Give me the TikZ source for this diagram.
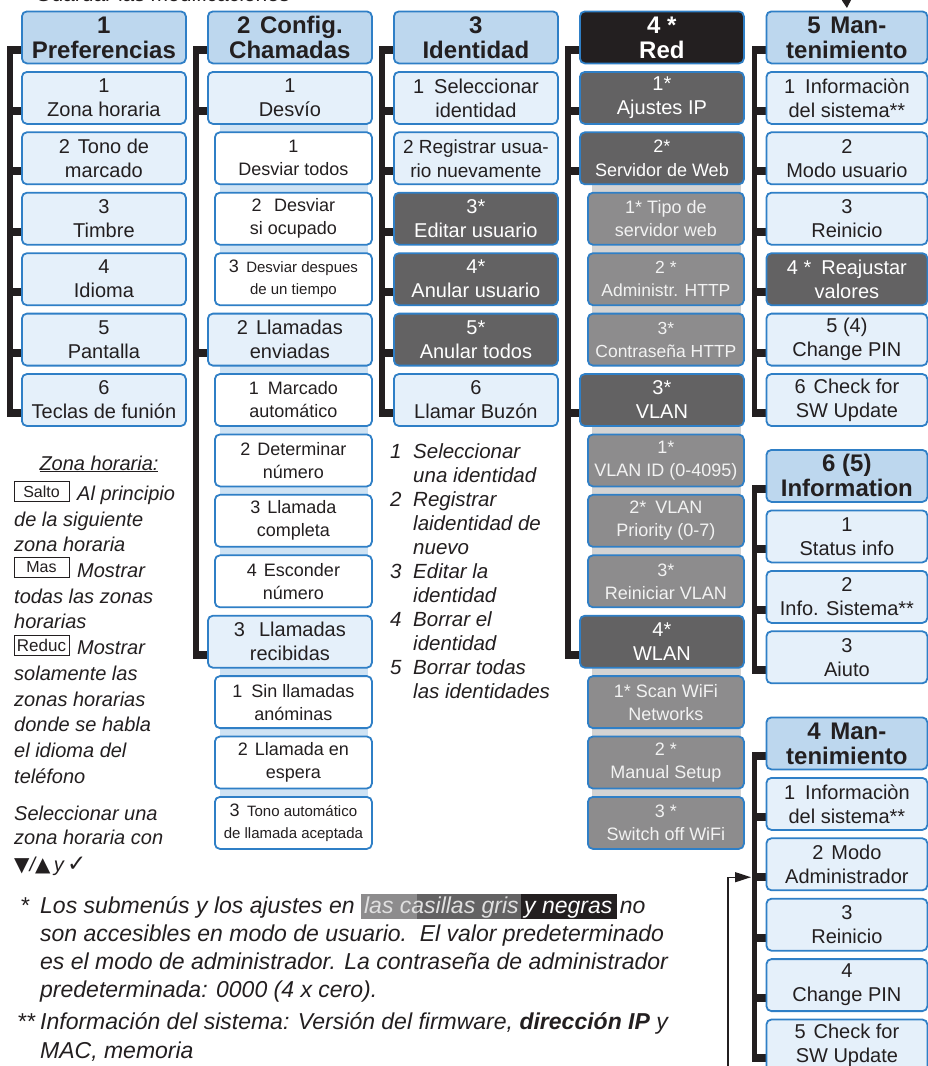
\documentclass[tikz,border=0pt]{standalone}
\usepackage{fontspec}
\setmainfont{Liberation Sans}
\newfontfamily\symf{DejaVu Sans}
\usetikzlibrary{calc,arrows.meta,backgrounds}
\definecolor{hdrblue}{HTML}{BDD7EE}
\definecolor{itmblue}{HTML}{E5F0FA}
\definecolor{bordblue}{HTML}{2F7FC6}
\definecolor{stripblue}{HTML}{CFE3F4}
\definecolor{dkgray}{HTML}{636263}
\definecolor{mdgray}{HTML}{8D8C8D}
\definecolor{stripgray}{HTML}{D3D3D3}
\definecolor{nearblack}{HTML}{231F20}
\begin{document}
\begin{tikzpicture}[x=1pt,y=-1pt,
 box/.style={draw=bordblue, line width=1.8pt, rounded corners=5pt, minimum height=52pt, inner sep=0pt, align=center, anchor=north west, text=nearblack},
 par/.style={box, minimum width=164pt, fill=itmblue, font=\fontsize{20}{24}\selectfont},
 hdr/.style={par, fill=hdrblue, font=\bfseries\fontsize{24}{25}\selectfont},
 sub/.style={box, minimum width=157pt, fill=white, font=\fontsize{18}{23}\selectfont},
 dk/.style={par, fill=dkgray, text=white},
 md/.style={sub, minimum width=156pt, fill=mdgray, text=white!95!black},
 par5/.style={par, minimum width=161pt},
 hdr5/.style={hdr, minimum width=161pt},
 dk5/.style={dk, minimum width=161pt},
 tick/.style={draw=nearblack, line width=8pt},
 vline/.style={draw=nearblack, line width=5.5pt},
 stripb/.style={fill=stripblue},
 stripg/.style={fill=stripgray},
 lt/.style={font=\itshape\fontsize{20}{24}\selectfont, anchor=base west, inner sep=0pt, text=nearblack},
 lst/.style={font=\itshape\fontsize{20.5}{24}\selectfont, anchor=base west, inner sep=0pt, text=nearblack},
 fn/.style={font=\itshape\fontsize{23}{28}\selectfont, anchor=base west, inner sep=0pt, text=nearblack},
 keybox/.style={draw=nearblack, line width=1pt, minimum width=55pt, minimum height=20pt, inner sep=0pt, font=\fontsize{16}{16}\selectfont, text=nearblack},
 conn/.style={draw=nearblack, line width=1.3pt}
]
\useasboundingbox (0,0) rectangle (927,1066);
\begin{pgfonlayer}{background}
\fill[white] (0,0) rectangle (927,1066);
\end{pgfonlayer}

% partially visible title at top
\node[font=\fontsize{21}{24}\selectfont, anchor=base west, inner sep=0pt, text=nearblack] (gm) at (35,1) {Guardar las modificaciones};

% ---------- Column 1
\node[hdr] (c1h) at (21,10.5) {1\\Preferencias};
\node[par] (c1a) at (21,71) {1\\Zona horaria};
\node[par] (c1b) at (21,131.4) {2\hspace{.4em}Tono de\\marcado};
\node[par] (c1c) at (21,191.8) {3\\Timbre};
\node[par] (c1d) at (21,252.3) {4\\Idioma};
\node[par] (c1e) at (21,312.7) {5\\Pantalla};
\node[par] (c1f) at (21,373.1) {6\\Teclas de funión};

% ---------- Column 2
\node[hdr] (c2h) at (207,10.5) {2\hspace{.4em}Config.\\Chamadas};
\node[par] (c2a) at (207,71) {1\\Desvío};
\node[sub] (c2a1) at (214,131.4) {1\\Desviar todos};
\node[sub] (c2a2) at (214,191.8) {2\hspace{.7em}Desviar\\si ocupado};
\node[sub, font=\fontsize{15}{22}\selectfont] (c2a3) at (214,252.3) {{\fontsize{18}{22}\selectfont 3}\hspace{.5em}Desviar despues\\de un tiempo};
\node[par] (c2b) at (207,312.7) {2\hspace{.4em}Llamadas\\enviadas};
\node[sub] (c2b1) at (214,373.1) {1\hspace{.5em}Marcado\\automático};
\node[sub] (c2b2) at (214,433.5) {2\hspace{.4em}Determinar\\número};
\node[sub] (c2b3) at (214,493.9) {3\hspace{.4em}Llamada\\completa};
\node[sub] (c2b4) at (214,554.4) {4\hspace{.4em}Esconder\\número};
\node[par] (c2c) at (207,614.8) {3\hspace{.7em}Llamadas\\recibidas};
\node[sub] (c2c1) at (214,675.2) {1\hspace{.5em}Sin llamadas\\anóminas};
\node[sub] (c2c2) at (214,735.6) {2\hspace{.4em}Llamada en\\espera};
\node[sub, font=\fontsize{15}{22}\selectfont] (c2c3) at (214,796) {{\fontsize{18}{22}\selectfont 3}\hspace{.5em}Tono automático\\de llamada aceptada};

% ---------- Column 3
\node[hdr] (c3h) at (393,10.5) {3\\Identidad};
\node[par] (c3a) at (393,71) {1\hspace{.5em}Seleccionar\\identidad};
\node[par, font=\fontsize{19}{24}\selectfont] (c3b) at (393,131.4) {2 Registrar usua-\\rio nuevamente};
\node[dk] (c3c) at (393,191.8) {3*\\Editar usuario};
\node[dk] (c3d) at (393,252.3) {4*\\Anular usuario};
\node[dk] (c3e) at (393,312.7) {5*\\Anular todos};
\node[par] (c3f) at (393,373.1) {6\\Llamar Buzón};

% ---------- Column 4
\node[hdr, fill=nearblack, text=white] (c4h) at (579,10.5) {4 *\\Red};
\node[dk] (c4a) at (579,71) {1*\\Ajustes IP};
\node[dk, font=\fontsize{18}{24}\selectfont] (c4b) at (579,131.4) {2*\\Servidor de Web};
\node[md] (c4b1) at (587,191.8) {1* Tipo de\\servidor web};
\node[md, font=\fontsize{17.5}{23}\selectfont] (c4b2) at (587,252.3) {2 *\\Administr. HTTP};
\node[md, font=\fontsize{17.5}{23}\selectfont] (c4b3) at (587,312.7) {3*\\Contraseña HTTP};
\node[dk] (c4c) at (579,373.1) {3*\\VLAN};
\node[md] (c4c1) at (587,433.5) {1*\\VLAN ID (0-4095)};
\node[md] (c4c2) at (587,493.9) {2*\hspace{.5em}VLAN\\Priority (0-7)};
\node[md] (c4c3) at (587,554.4) {3*\\Reiniciar VLAN};
\node[dk] (c4d) at (579,614.8) {4*\\WLAN};
\node[md] (c4d1) at (587,675.2) {1* Scan WiFi\\Networks};
\node[md] (c4d2) at (587,735.6) {2 *\\Manual Setup};
\node[md] (c4d3) at (587,796) {3 *\\Switch off WiFi};

% ---------- Column 5
\node[hdr5] (c5h) at (765.5,10.5) {5\hspace{.4em}Man-\\tenimiento};
\node[par5] (c5a) at (765.5,71) {1\hspace{.5em}Informaciòn\\del sistema**};
\node[par5] (c5b) at (765.5,131.4) {2\\Modo usuario};
\node[par5] (c5c) at (765.5,191.8) {3\\Reinicio};
\node[dk5] (c5d) at (765.5,252.3) {4 *\hspace{.5em}Reajustar\\valores};
\node[par5] (c5e) at (765.5,312.7) {5 (4)\\Change PIN};
\node[par5] (c5f) at (765.5,373.1) {6\hspace{.4em}Check for\\SW Update};

% ---------- Column 6
\node[hdr5] (c6h) at (765.5,449) {6 (5)\\Information};
\node[par5] (c6a) at (765.5,509.5) {1\\Status info};
\node[par5] (c6b) at (765.5,570) {2\\Info. Sistema**};
\node[par5] (c6c) at (765.5,630.4) {3\\Aiuto};

% ---------- Column 7
\node[hdr5] (c7h) at (765.5,716.5) {4\hspace{.4em}Man-\\tenimiento};
\node[par5] (c7a) at (765.5,777) {1\hspace{.5em}Informaciòn\\del sistema**};
\node[par5] (c7b) at (765.5,837.4) {2\hspace{.4em}Modo\\Administrador};
\node[par5] (c7c) at (765.5,897.8) {3\\Reinicio};
\node[par5] (c7d) at (765.5,958.2) {4\\Change PIN};
\node[par5] (c7e) at (765.5,1018.6) {5\hspace{.4em}Check for\\SW Update};

% ---------- arrows
\coordinate (topin) at (846,-10);
\draw[conn, -{Triangle[length=8pt,width=9pt]}] (topin) -- ($(c5h.north)+(0,-2.5)$);
\coordinate (botin) at (728,1080);
\draw[conn, -{Triangle[length=16pt,width=10pt]}] (botin) |- ($(c7b.south west)+(-14.5,-14)$);

% ---------- left notes
\node[lt, anchor=base] (zh) at (99,470) {\underline{Zona horaria:}};
\node[keybox] (ks) at (41.5,491.5) {Salto};
\node[lt] (l1) at (77,500) {Al principio};
\node[lt] (l2) at (14,526) {de la siguiente};
\node[lt] (l3) at (14,551) {zona horaria};
\node[keybox] (km) at (41.5,567.5) {Mas};
\node[lt] (l4) at (77,577) {Mostrar};
\node[lt] (l5) at (14,603) {todas las zonas};
\node[lt] (l6) at (14,628) {horarias};
\node[keybox, font=\fontsize{17}{17}\selectfont] (kr) at (41.5,645) {Reduc};
\node[lt] (l7) at (77,654) {Mostrar};
\node[lt] (l8) at (14,680) {solamente las};
\node[lt] (l9) at (14,706) {zonas horarias};
\node[lt] (l10) at (14,731) {donde se habla};
\node[lt] (l11) at (14,757) {el idioma del};
\node[lt] (l12) at (14,783) {teléfono};
\node[lt] (l13) at (14,820) {Seleccionar una};
\node[lt] (l14) at (14,844) {zona horaria con};
\node[lt] (l15) at (14,871) {{\symf\upshape ▼}/{\symf\upshape ▲}\,y\,{\symf\upshape\bfseries\fontsize{23}{24}\selectfont ✓}};

% ---------- identity notes
\node[lst] (n1) at (390,458) {1};
\node[lst] (n1a) at (413,458) {Seleccionar};
\node[lst] (n1b) at (413,482) {una identidad};
\node[lst] (n2) at (390,506) {2};
\node[lst] (n2a) at (413,506) {Registrar};
\node[lst] (n2b) at (413,530) {laidentidad de};
\node[lst] (n2c) at (413,554) {nuevo};
\node[lst] (n3) at (390,578) {3};
\node[lst] (n3a) at (413,578) {Editar la};
\node[lst] (n3b) at (413,602) {identidad};
\node[lst] (n4) at (390,626) {4};
\node[lst] (n4a) at (413,626) {Borrar el};
\node[lst] (n4b) at (413,650) {identidad};
\node[lst] (n5) at (390,674) {5};
\node[lst] (n5a) at (413,674) {Borrar todas};
\node[lst] (n5b) at (413,698) {las identidades};

% ---------- footnotes
\node[fn] (f0) at (20,913) {*};
\node[fn] (f1a) at (40,913) {Los submenús y los ajustes en};
\node[fn, text=white!88!black] (f1b) at ($(f1a.base east)+(9,0)$) {las casillas gris};
\node[fn, text=white] (f1c) at ($(f1b.base east)+(5,0)$) {y negras};
\node[fn] (f1d) at ($(f1c.base east)+(7,0)$) {no};
\node[fn] (f2) at (40,941) {son accesibles en modo de usuario.\ \ El valor predeterminado};
\node[fn] (f3) at (40,969) {es el modo de administrador. La contraseña de administrador};
\node[fn] (f4) at (40,997) {predeterminada: 0000 (4 x cero).};
\node[fn] (f5s) at (17,1029) {**};
\node[fn] (f5) at (40,1029) {Información del sistema: Versión del firmware, \textbf{dirección IP} y};
\node[fn] (f6) at (40,1058) {MAC, memoria};

% ---------- background: strips, brackets, highlights
\begin{pgfonlayer}{background}
\fill[stripb] ($(c2a.south west)+(13,-5)$) rectangle ($(c2a3.north east)+(-5,5)$);
\fill[stripb] ($(c2b.south west)+(13,-5)$) rectangle ($(c2b4.north east)+(-5,5)$);
\fill[stripb] ($(c2c.south west)+(13,-5)$) rectangle ($(c2c3.north east)+(-5,5)$);
\fill[stripg] ($(c4b.south west)+(13,-5)$) rectangle ($(c4b3.north east)+(-4,5)$);
\fill[stripg] ($(c4c.south west)+(13,-5)$) rectangle ($(c4c3.north east)+(-4,5)$);
\fill[stripg] ($(c4d.south west)+(13,-5)$) rectangle ($(c4d3.north east)+(-4,5)$);
\foreach \n in {c1h,c1a,c1b,c1c,c1d,c1e,c1f,c2h,c2a,c2b,c2c,c3h,c3a,c3b,c3c,c3d,c3e,c3f,c4h,c4a,c4b,c4c,c4d,c5h,c5a,c5b,c5c,c5d,c5e,c5f,c6h,c6a,c6b,c6c,c7h,c7a,c7b,c7c,c7d,c7e}
  {\draw[tick] ($(\n.south west)+(-11,-14)$) -- ($(\n.south west)+(1,-14)$);}
\draw[vline] ($(c1h.south west)+(-11,-18)$) -- ($(c1f.south west)+(-11,-10)$);
\draw[vline] ($(c2h.south west)+(-11,-18)$) -- ($(c2c.south west)+(-11,-10)$);
\draw[vline] ($(c3h.south west)+(-11,-18)$) -- ($(c3f.south west)+(-11,-10)$);
\draw[vline] ($(c4h.south west)+(-11,-18)$) -- ($(c4d.south west)+(-11,-10)$);
\draw[vline] ($(c5h.south west)+(-11,-18)$) -- ($(c5f.south west)+(-11,-10)$);
\draw[vline] ($(c6h.south west)+(-11,-18)$) -- ($(c6c.south west)+(-11,-10)$);
\draw[vline] ($(c7h.south west)+(-11,-18)$) -- ($(c7e.south west)+(-11,-10)$);
\fill[mdgray] ($(f1b.base west)+(-3,-19)$) rectangle ($(f1b.base west)!0.34!(f1b.base east)+(0,6)$);
\fill[dkgray] ($(f1b.base west)!0.34!(f1b.base east)+(0,-19)$) rectangle ($(f1b.base east)+(2,6)$);
\fill[nearblack] ($(f1b.base east)+(2,-19)$) rectangle ($(f1c.base east)+(4,6)$);
\end{pgfonlayer}
\end{tikzpicture}
\end{document}
